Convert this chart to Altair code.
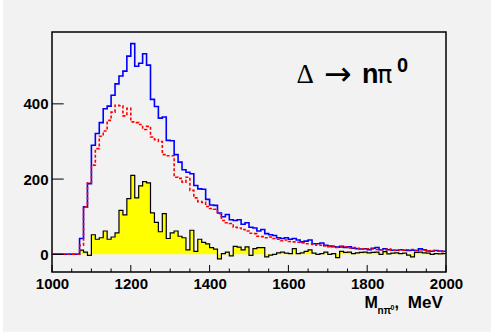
import altair as alt
import pandas as pd

# bin left edges, 10 MeV bins from 1000 to 2000
bin_start = 1000
bin_width = 10

blue_total = [0, 0, 0, 0, 0, 0, 0,
    42, 126, 188, 290, 321, 350, 387, 394, 423, 453,
    474, 487, 527, 560, 500, 508, 533, 503, 412, 393,
    362, 365, 303, 302, 265, 245, 225, 218, 214, 183,
    174, 173, 146, 131, 130, 110, 100, 106, 92, 90,
    92, 80, 84, 72, 70, 62, 66, 55, 52, 50,
    44, 42, 44, 40, 42, 38, 33, 35, 38, 28,
    28, 30, 24, 22, 20, 19, 21, 18, 20, 16,
    15, 14, 15, 12, 16, 18, 12, 15, 12, 11,
    11, 12, 11, 10, 11, 10, 15, 12, 9, 8,
    10, 9, 8]

red_background = [0, 0, 0, 0, 0, 0, 0,
    24, 126, 190, 237, 281, 314, 328, 356, 378, 396,
    395, 368, 388, 352, 350, 345, 332, 340, 312, 305,
    300, 265, 262, 262, 205, 202, 192, 205, 170, 150,
    140, 138, 127, 122, 120, 108, 90, 84, 82, 72,
    70, 66, 62, 56, 55, 48, 47, 44, 46, 42,
    40, 36, 38, 34, 33, 32, 30, 28, 28, 26,
    24, 24, 22, 20, 22, 18, 19, 20, 17, 18,
    16, 15, 14, 15, 14, 13, 12, 12, 14, 11,
    10, 12, 11, 12, 13, 10, 12, 11, 9, 10,
    8, 9, 7]

yellow_signal = [0, 0, 0, 0, 0, 0, 0,
    11, 6, -3, 52, 40, 44, 62, 40, 46, 57,
    117, 105, 148, 210, 150, 182, 193, 190, 110, 85,
    60, 108, 42, 57, 62, 48, 44, 12, 64, 8,
    40, 32, 28, 18, 14, -12, 2, 6, -4, 21,
    19, 12, 20, -3, 15, 18, 18, -7, -2, 0,
    4, 6, 3, 2, 15, 2, 4, 8, 12, 3,
    0, 2, 6, 0, 2, -9, 8, 5, 6, 2,
    4, 5, 6, 4, 5, 6, 0, 7, 1, 3,
    4, 2, 3, -2, -7, 5, 6, 4, 3, 0,
    2, 1, 2]

x_label_values = [1000, 1200, 1400, 1600, 1800, 2000]
y_label_values = [0, 200, 400]
x_major_ticks = [1000, 1200, 1400, 1600, 1800, 2000]
x_minor_ticks = [v for v in range(1050, 2000, 50) if v % 200 != 0]
y_major_ticks = [0, 200, 400]


def step_frame(vals):
    n = len(vals)
    xs = [bin_start + i * bin_width for i in range(n)] + [bin_start + n * bin_width]
    ys = list(vals) + [vals[-1]]
    return pd.DataFrame({"m": xs, "v": ys})


W, H = 394, 240
FONT = "Liberation Sans"
xscale = alt.Scale(domain=[1000, 2000], nice=False, zero=False)
yscale = alt.Scale(domain=[-47, 591], nice=False, zero=False)

xaxis = alt.Axis(values=x_label_values, ticks=False, domain=False, grid=False,
                 labelFontSize=15, labelFont=FONT, labelFontWeight="bold",
                 labelColor="black", labelPadding=4, labelFlush=False,
                 labelOverlap=False, title=None, format="d")
yaxis = alt.Axis(values=y_label_values, ticks=False, domain=False, grid=False,
                 labelFontSize=15, labelFont=FONT, labelFontWeight="bold",
                 labelColor="black", labelPadding=4, labelOverlap=False,
                 title=None, format="d")

ydf = step_frame(yellow_signal)
yellow_area = alt.Chart(ydf).mark_area(interpolate="step-after", color="#ffff00", opacity=1).encode(
    x=alt.X("m:Q", scale=xscale, axis=xaxis),
    y=alt.Y("v:Q", scale=yscale, axis=yaxis),
    y2=alt.datum(0),
)
yellow_line = alt.Chart(ydf).mark_line(interpolate="step-after", color="black", strokeWidth=1.2).encode(
    x=alt.X("m:Q", scale=xscale), y=alt.Y("v:Q", scale=yscale))

blue_line = alt.Chart(step_frame(blue_total)).mark_line(
    interpolate="step-after", color="#0000ff", strokeWidth=1.6).encode(
    x=alt.X("m:Q", scale=xscale), y=alt.Y("v:Q", scale=yscale))

red_line = alt.Chart(step_frame(red_background)).mark_line(
    interpolate="step-after", color="#ff0000", strokeWidth=1.6, strokeDash=[3, 2]).encode(
    x=alt.X("m:Q", scale=xscale), y=alt.Y("v:Q", scale=yscale))

xmaj = alt.Chart(pd.DataFrame({"t": x_major_ticks})).mark_rule(color="black", strokeWidth=1).encode(
    x=alt.X("t:Q", scale=xscale), y=alt.value(H), y2=alt.value(H - 7))
xmin = alt.Chart(pd.DataFrame({"t": x_minor_ticks})).mark_rule(color="black", strokeWidth=1).encode(
    x=alt.X("t:Q", scale=xscale), y=alt.value(H), y2=alt.value(H - 3.5))
ymaj = alt.Chart(pd.DataFrame({"t": y_major_ticks})).mark_rule(color="black", strokeWidth=1).encode(
    y=alt.Y("t:Q", scale=yscale), x=alt.value(0), x2=alt.value(11.7))

# thin white margins of the original canvas (left and bottom edges)
edge_left = alt.Chart(pd.DataFrame({"k": [0]})).mark_rect(color="white").encode(
    x=alt.value(-52), x2=alt.value(-49), y=alt.value(-32), y2=alt.value(302))
edge_bottom = alt.Chart(pd.DataFrame({"k": [0]})).mark_rect(color="white").encode(
    x=alt.value(-52), x2=alt.value(439), y=alt.value(299.8), y2=alt.value(302))


def txt(s, x, y, size, weight="normal", font=FONT, align="left"):
    return alt.Chart(pd.DataFrame({"s": [s]})).mark_text(
        align=align, baseline="alphabetic", fontSize=size, fontWeight=weight,
        font=font, color="black").encode(x=alt.value(x), y=alt.value(y), text="s:N")

texts = [
    txt("Δ", 244.5, 51.3, 27, font="Liberation Serif"),
    txt("→", 272, 52.5, 33, font="DejaVu Sans"),
    txt("n", 310, 51.3, 27, weight="bold"),
    txt("π", 325.2, 51.3, 25, font="DejaVu Sans"),
    txt("0", 345.0, 39.7, 20, weight="bold"),
    txt("M", 312.5, 276.3, 16, weight="bold"),
    txt("nπ", 325.5, 282, 10, weight="bold"),
    txt("0", 338.6, 277.5, 7, weight="bold"),
    txt(",", 342.5, 276.3, 16, weight="bold"),
    txt("MeV", 355.8, 276.3, 17, weight="bold"),
]

chart = alt.layer(edge_left, edge_bottom, yellow_area, yellow_line, blue_line, red_line,
                  xmaj, xmin, ymaj, *texts).properties(
    width=W, height=H,
    autosize=alt.AutoSizeParams(type="none"),
    padding={"left": 52, "top": 32, "right": 45, "bottom": 62},
    background="#f2f2f2",
).configure_view(stroke="black", strokeWidth=1.5)

chart.save("out.html", embed_options={"renderer": "svg", "actions": False})
